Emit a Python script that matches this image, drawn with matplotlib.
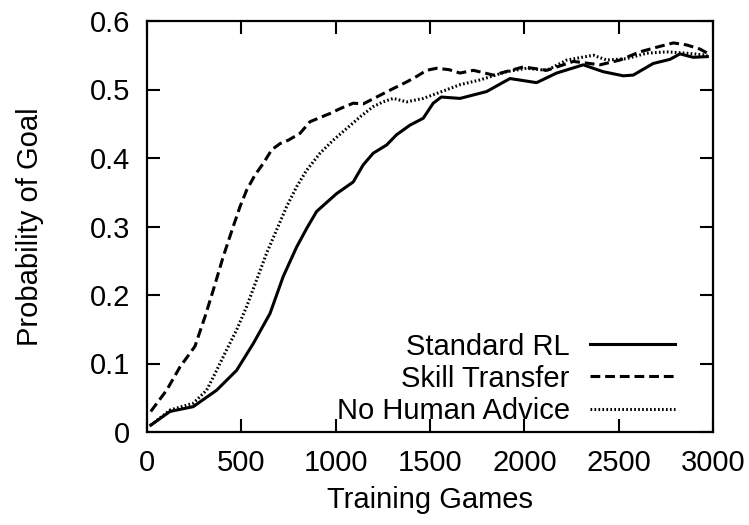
import numpy as np
import matplotlib
matplotlib.use('Agg')
import matplotlib.pyplot as plt

# Valeurs
x_std = [20, 122, 245, 369, 475, 563, 652, 722, 793, 846, 899, 1005, 1093, 1146, 1199,
         1270, 1323, 1394, 1464, 1517, 1560, 1659, 1800, 1924, 2065, 2171, 2312, 2418,
         2524, 2577, 2683, 2772, 2825, 2895, 2970]
y_std = [0.010, 0.030, 0.037, 0.061, 0.090, 0.129, 0.173, 0.227, 0.270, 0.297, 0.322,
         0.348, 0.365, 0.390, 0.407, 0.419, 0.434, 0.448, 0.458, 0.480, 0.489, 0.487,
         0.497, 0.516, 0.510, 0.524, 0.536, 0.526, 0.520, 0.521, 0.538, 0.544, 0.552,
         0.547, 0.548]

x_skill = [20, 104, 175, 254, 307, 351, 404, 457, 493, 528, 572, 616, 661, 705, 749, 811,
           864, 970, 1023, 1093, 1146, 1217, 1288, 1376, 1429, 1482, 1535, 1600, 1659,
           1730, 1836, 1995, 2119, 2260, 2401, 2507, 2613, 2719, 2790, 2861, 2931, 2970]
y_skill = [0.030, 0.061, 0.095, 0.125, 0.168, 0.207, 0.256, 0.300, 0.329, 0.353, 0.375,
           0.392, 0.412, 0.421, 0.426, 0.436, 0.453, 0.465, 0.472, 0.480, 0.479, 0.489,
           0.499, 0.511, 0.519, 0.528, 0.531, 0.529, 0.524, 0.528, 0.521, 0.533, 0.528,
           0.541, 0.536, 0.543, 0.555, 0.563, 0.568, 0.565, 0.559, 0.553]

x_human = [20, 122, 245, 316, 369, 422, 475, 528, 581, 634, 687, 740, 793, 846, 917, 987,
           1058, 1129, 1199, 1252, 1305, 1376, 1464, 1553, 1659, 1765, 1906, 2012, 2119,
           2225, 2366, 2436, 2542, 2648, 2754, 2861, 2970]
y_human = [0.010, 0.032, 0.042, 0.061, 0.090, 0.120, 0.149, 0.183, 0.222, 0.261, 0.295,
           0.329, 0.358, 0.382, 0.407, 0.426, 0.443, 0.460, 0.475, 0.482, 0.487, 0.482,
           0.487, 0.496, 0.507, 0.514, 0.526, 0.531, 0.528, 0.543, 0.550, 0.543, 0.545,
           0.553, 0.555, 0.553, 0.550]

x_ticks = [0, 500, 1000, 1500, 2000, 2500, 3000]
y_ticks = [0, 0.1, 0.2, 0.3, 0.4, 0.5, 0.6]
y_tick_labels = ['0', '0.1', '0.2', '0.3', '0.4', '0.5', '0.6']

plt.rcParams['font.family'] = ['Liberation Sans', 'DejaVu Sans']
fs = 21

fig = plt.figure(figsize=(7.49, 5.25), dpi=100)
ax = fig.add_axes([147 / 749, 93 / 525, 566 / 749, 411 / 525])

ax.plot(x_std, y_std, color='black', lw=2.2, ls='-', label='Standard RL')
ax.plot(x_skill, y_skill, color='black', lw=2.2, ls=(0, (3.2, 1.6)), label='Skill Transfer')
ax.plot(x_human, y_human, color='black', lw=2.2, ls=(0, (0.55, 0.75)), label='No Human Advice')

ax.set_xlim(0, 3000)
ax.set_ylim(0, 0.6)
ax.set_xticks(x_ticks)
ax.set_yticks(y_ticks)
ax.set_yticklabels(y_tick_labels)
ax.tick_params(direction='in', length=9.5, width=1.5, top=True, right=True,
               labelsize=fs)
ax.tick_params(axis='x', pad=12)
ax.tick_params(axis='y', pad=12)
for s in ax.spines.values():
    s.set_linewidth(1.6)

ax.set_xlabel('Training Games', fontsize=fs)
ax.set_ylabel('Probability of Goal', fontsize=fs)
ax.xaxis.set_label_coords(0.5, -(500 - 432) / 411, transform=ax.transAxes)
ax.xaxis.label.set_va('center')
ax.yaxis.set_label_coords(-(147 - 30) / 566, 0.5, transform=ax.transAxes)
ax.yaxis.label.set_va('center')

ax.legend(loc='lower right', bbox_to_anchor=((682 - 147) / 566, 0.0),
          bbox_transform=ax.transAxes, frameon=False, markerfirst=False,
          fontsize=fs, handlelength=2.9, handletextpad=0.7, labelspacing=0.14,
          borderpad=0.25, borderaxespad=0)

fig.savefig('out.png', dpi=100)
